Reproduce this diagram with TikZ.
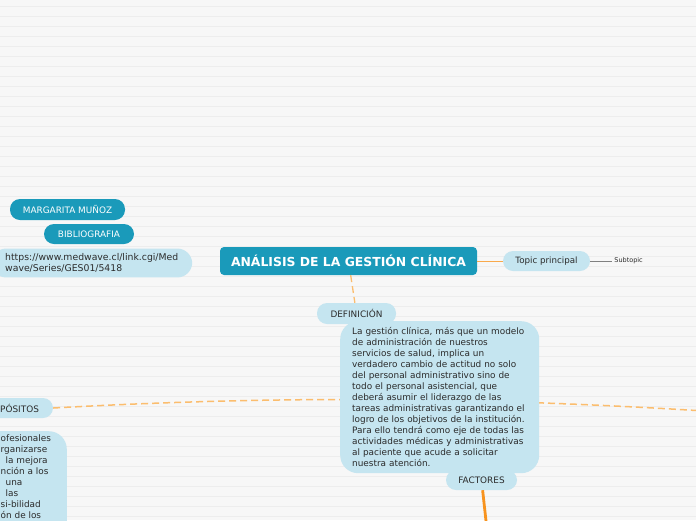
\documentclass[tikz,border=0pt]{standalone}
\usepackage{fontspec}
\setmainfont{DejaVu Sans}
\usetikzlibrary{positioning}
\definecolor{mapTeal}{HTML}{1A9ABA}
\definecolor{mapSky}{HTML}{C5E5F0}
\definecolor{mapInk}{HTML}{2B2B2B}
\definecolor{mapOrange}{HTML}{F7931E}
\definecolor{mapDash}{HTML}{FBBD6E}
\definecolor{mapPaper}{HTML}{F7F7F7}
\definecolor{mapRule}{HTML}{EDEDED}

\begin{document}
\begin{tikzpicture}[x=1pt, y=-1pt, node distance=3pt]
\tikzstyle{root}=[fill=mapTeal,text=white,rounded corners=4pt,minimum width=257pt,minimum height=28pt,font=\fontsize{12.4}{14}\selectfont\bfseries]
\tikzstyle{pill}=[fill=mapSky,text=mapInk,rounded corners=10pt,minimum height=20pt,inner xsep=0pt,font=\fontsize{8.9}{10}\selectfont]
\tikzstyle{tag}=[pill,fill=mapTeal,text=white]
\tikzstyle{card}=[fill=mapSky,text=mapInk,rounded corners=18pt,align=left,font=\fontsize{8.9}{11}\selectfont]
\tikzstyle{dashlink}=[draw=mapDash,line width=1.5pt,dash pattern=on 7pt off 4pt]
\useasboundingbox (0,0) rectangle (696,520);
\clip (0,0) rectangle (696,520);
% paper
\fill[mapPaper] (0,0) rectangle (696,520);
\foreach \y in {6,16,...,516}{\draw[mapRule,line width=.7pt] (0,\y) -- (696,\y);}
% left side
\node[pill,minimum width=93pt] (purp) at (6.5,408) {};
\node[pill,anchor=west,fill=none,minimum height=0pt] (purptxt) at (0,408) {PÓSITOS};
\coordinate (far) at (720,412);
\draw[dashlink] (purp.east) .. controls (250,397) and (460,395) .. (far);
\node[card,minimum width=230pt,minimum height=140pt,anchor=north east] (purpbox) at (67,431) {};
\node[card,fill=none,inner sep=0pt,anchor=north west] (purpbody) at (0.5,435)
  {ofesionales\\rganizarse\\\hspace*{5pt}la mejora\\nción a los\\\hspace*{5pt}una\\\hspace*{5pt}las\\si-bilidad\\ón de los};
\node[tag,minimum width=115pt,minimum height=21pt] (author) at (67.5,209.5) {MARGARITA MUÑOZ};
\node[tag,minimum width=90pt] (biblio) at (89,234) {BIBLIOGRAFIA};
\node[card,rounded corners=15pt,inner xsep=14pt,inner ysep=5pt,anchor=west,font=\fontsize{9.3}{11}\selectfont] (url) at (-9,263)
  {https://www.medwave.cl/link.cgi/Med\\wave/Series/GES01/5418};
% center
\node[root] (main) at (348.5,261) {ANÁLISIS DE LA GESTIÓN CLÍNICA};
\node[pill,minimum width=87pt,font=\fontsize{8.7}{10}\selectfont] (topic) at (546.5,261) {Topic principal};
\node[right=22pt of topic,text=mapInk,inner sep=2pt,font=\fontsize{6.5}{8}\selectfont] (sub) {Subtopic};
\node[pill,minimum width=79pt,minimum height=21pt] (defl) at (356.5,313.5) {DEFINICIÓN};
\node[card,minimum width=199pt,minimum height=152pt,text width=175pt,inner xsep=12pt,anchor=north west] (defbox) at (340,321)
  {La gestión clínica, más que un modelo\\de administración de nuestros\\servicios de salud, implica un\\verdadero cambio de actitud no solo\\del personal administrativo sino de\\todo el personal asistencial, que\\deberá asumir el liderazgo de las\\tareas administrativas garantizando el\\logro de los objetivos de la institución.\\Para ello tendrá como eje de todas las\\actividades médicas y administrativas\\al paciente que acude a solicitar\\nuestra atención.};
\node[pill,minimum width=71pt] (fact) at (481.5,480) {FACTORES};
\coordinate (factdown) at (487,530);
% links
\draw[dashlink,line width=1.3pt] (main) -- (defl);
\draw[mapOrange!80,line width=.9pt] (main) -- (topic);
\draw[gray,line width=.7pt] (topic) -- (sub);
\draw[mapOrange,line width=2.8pt] (fact) -- (factdown);
\end{tikzpicture}
\end{document}
